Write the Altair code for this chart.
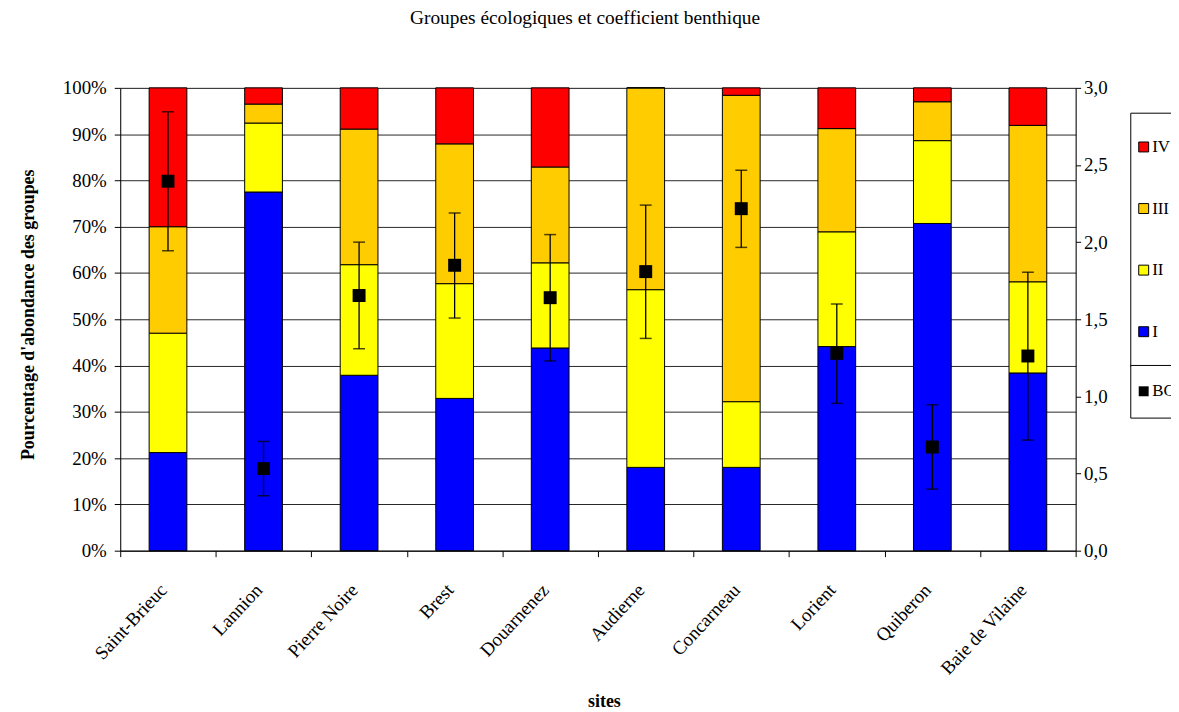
import altair as alt
import pandas as pd

sites = ["Saint-Brieuc", "Lannion", "Pierre Noire", "Brest", "Douarnenez",
         "Audierne", "Concarneau", "Lorient", "Quiberon", "Baie de Vilaine"]
groupes = ["I", "II", "III", "IV"]
g_I   = [21.2, 77.5, 37.9, 32.9, 43.8, 18.0, 18.0, 44.1, 70.7, 38.4]
g_II  = [25.8, 14.9, 23.9, 24.8, 18.4, 38.4, 14.2, 24.8, 17.9, 19.7]
g_III = [23.0,  4.1, 29.3, 30.2, 20.7, 43.6, 66.2, 22.3,  8.4, 33.8]
g_IV  = [30.0,  3.5,  8.9, 12.1, 17.1,  0.0,  1.6,  8.8,  3.0,  8.1]
bc      = [2.395, 0.532, 1.654, 1.850, 1.640, 1.809, 2.217, 1.279, 0.672, 1.262]
bc_high = [2.845, 0.708, 2.000, 2.189, 2.049, 2.240, 2.466, 1.599, 0.946, 1.805]
bc_low  = [1.944, 0.356, 1.309, 1.508, 1.230, 1.376, 1.966, 0.955, 0.399, 0.717]

rows = []
for gi, (g, vals) in enumerate(zip(groupes, [g_I, g_II, g_III, g_IV])):
    for s, v in zip(sites, vals):
        rows.append({"site": s, "groupe": g, "ord": gi, "pct": v / 100.0})
df_bars = pd.DataFrame(rows)
df_bc = pd.DataFrame({"site": sites, "bc": bc, "hi": bc_high, "lo": bc_low,
                      "serie": ["BC"] * len(sites)})

FONT = "Liberation Serif"
PAD_LABEL = "datum.label + '                    '"

x_enc = alt.X("site:N", sort=sites,
              scale=alt.Scale(paddingInner=0, paddingOuter=0),
              axis=alt.Axis(title="sites", titleFont=FONT, titleFontSize=18,
                            titleFontWeight="bold", titleColor="black",
                            titleY=157, titleX=487, titleBaseline="alphabetic",
                            labelFont=FONT, labelFontSize=19, labelColor="black",
                            labelAngle=-47, labelAlign="right", labelBaseline="middle",
                            labelPadding=30, labelOffset=-5, tickBand="extent",
                            tickSize=6, tickColor="black", domainColor="black",
                            grid=False))

bars = alt.Chart(df_bars).mark_bar(width=38, stroke="black", strokeWidth=1).encode(
    x=x_enc,
    y=alt.Y("pct:Q", stack="zero",
            scale=alt.Scale(domain=[0, 1], nice=False),
            axis=alt.Axis(title="Pourcentage d'abondance des groupes",
                          titleFont=FONT, titleFontSize=18, titleFontWeight="bold",
                          titleColor="black", titleX=-87, titleY=228,
                          titleBaseline="alphabetic",
                          values=[i / 10 for i in range(11)], format=".0%",
                          labelFont=FONT, labelFontSize=19, labelColor="black",
                          labelPadding=8, tickSize=6, tickColor="black",
                          domainColor="black", grid=True, gridColor="black",
                          gridOpacity=0.85, gridWidth=1)),
    fill=alt.Fill("groupe:N",
                  scale=alt.Scale(domain=["IV", "III", "II", "I"],
                                  range=["#FF0000", "#FFCC00", "#FFFF00", "#0000FF"]),
                  legend=alt.Legend(title=None, orient="none", legendX=1017, legendY=25,
                                    strokeColor="black", fillColor="white", padding=26,
                                    symbolOffset=-21, rowPadding=44,
                                    symbolType="square", symbolSize=100,
                                    symbolStrokeColor="black", symbolStrokeWidth=1,
                                    labelFont=FONT, labelFontSize=17, labelColor="black",
                                    labelOffset=0, labelExpr=PAD_LABEL, labelLimit=400)),
    order=alt.Order("ord:Q", sort="ascending"),
)

y_bc = alt.Y("lo:Q", scale=alt.Scale(domain=[0, 3], nice=False),
             axis=alt.Axis(orient="right", title=None,
                           values=[0, 0.5, 1, 1.5, 2, 2.5, 3],
                           labelExpr="replace(format(datum.value, '.1f'), '.', ',')",
                           labelFont=FONT, labelFontSize=19, labelColor="black",
                           labelPadding=3, tickSize=5, tickColor="black",
                           domainColor="black", grid=False))

base_bc = alt.Chart(df_bc).encode(x=alt.X("site:N", sort=sites))

rule = base_bc.mark_rule(color="black", strokeWidth=1.3).encode(y=y_bc, y2="hi:Q")
cap_hi = base_bc.mark_tick(color="black", size=12, thickness=1.5).encode(
    y=alt.Y("hi:Q"))
cap_lo = base_bc.mark_tick(color="black", size=12, thickness=1.5).encode(
    y=alt.Y("lo:Q"))
pts = base_bc.mark_point(filled=True, color="black", opacity=1, size=170).encode(
    y=alt.Y("bc:Q"),
    shape=alt.Shape("serie:N", scale=alt.Scale(domain=["BC"], range=["square"]),
                    legend=alt.Legend(title=None, orient="none", legendX=1017,
                                      legendY=279, strokeColor="black",
                                      fillColor="white", padding=18, symbolOffset=-13,
                                      symbolSize=100, symbolFillColor="black",
                                      symbolStrokeColor="black",
                                      labelFont=FONT, labelFontSize=17,
                                      labelColor="black", labelOffset=0,
                                      labelExpr=PAD_LABEL, labelLimit=400)),
)

bc_layer = alt.layer(rule, cap_hi, cap_lo, pts)

chart = alt.layer(bars, bc_layer).resolve_scale(y="independent").properties(
    width=962, height=466,
    autosize=alt.AutoSizeParams(type="none"),
    padding={"left": 113, "top": 78, "right": 96, "bottom": 160},
    title=alt.TitleParams("Groupes écologiques et coefficient benthique",
                          font=FONT, fontSize=19.5, fontWeight="normal", color="black",
                          anchor="middle", dx=-13, offset=51),
).configure_view(stroke=None).configure(background="white")

chart.save("out.html", embed_options={"renderer": "svg", "actions": False})
